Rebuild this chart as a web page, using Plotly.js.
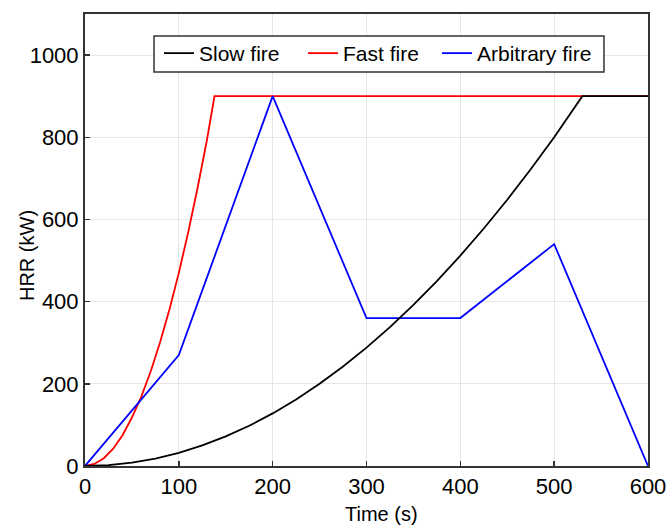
<!DOCTYPE html>
<html>
<head>
<meta charset="utf-8">
<script src="https://cdn.plot.ly/plotly-3.0.1.min.js"></script>
<style>html,body{margin:0;padding:0;background:#fff;}#chart{width:667px;height:527px;}</style>
</head>
<body>
<div id="chart"></div>
<script>
const slowTime = [0,25,50,75,100,125,150,175,200,225,250,275,300,325,350,375,400,425,450,475,500,530,600];
const slowHRR  = [0,2,8,18,32,50,72,98,128,162,200,242,288,338,392,450,512,578,648,722,800,900,900];
const fastTime = [0,10,20,30,40,50,60,70,80,90,100,110,120,130,138,600];
const fastHRR  = [0,5,19,42,75,118,169,230,301,381,470,569,677,794,900,900];
const arbTime  = [0,100,200,300,400,500,600];
const arbHRR   = [0,270,900,360,360,540,0];
const seriesNames = ['Slow fire','Fast fire','Arbitrary fire'];
const xTicks = [0,100,200,300,400,500,600];
const yTicks = [0,200,400,600,800,1000];
const xTitle = 'Time (s)';
const yTitle = 'HRR (kW)';

const traces = [
  {x: fastTime, y: fastHRR, name: seriesNames[1], mode:'lines', line:{color:'#ff0000', width:1.8}, legend:'legend2'},
  {x: arbTime, y: arbHRR, name: seriesNames[2], mode:'lines', line:{color:'#0000ff', width:1.8}, legend:'legend3'},
  {x: slowTime, y: slowHRR, name: seriesNames[0], mode:'lines', line:{color:'#000000', width:1.8}, legend:'legend'}
];
const FONT = 'Liberation Sans, Arial, sans-serif';
const axisCommon = {
  showline:true, linecolor:'#333', linewidth:2, mirror:true,
  ticks:'inside', ticklen:5, tickcolor:'#333', tickwidth:1.5,
  showgrid:true, gridcolor:'#e6e6e6', gridwidth:1, zeroline:false,
  tickfont:{family:FONT, size:22, color:'#000'}
};
const legBase = {orientation:'h', yanchor:'top', xanchor:'left', y:0.958,
  bgcolor:'rgba(0,0,0,0)', borderwidth:0, font:{size:21, family:FONT, color:'#000'}};
const layout = {
  width:667, height:527,
  margin:{l:85, r:19, t:14, b:61},
  paper_bgcolor:'#fff', plot_bgcolor:'#fff',
  font:{family:FONT, color:'#000'},
  xaxis: Object.assign({}, axisCommon, {range:[0,600], tickvals:xTicks, ticktext:xTicks.map(String)}),
  yaxis: Object.assign({}, axisCommon, {range:[0,1100], tickvals:yTicks, ticktext:yTicks.map(String)}),
  shapes:[
    {type:'rect', xref:'paper', yref:'paper', x0:0.1226, x1:0.9218, y0:0.8717, y1:0.9513,
     fillcolor:'#fff', line:{color:'#333', width:1.5}, layer:'above'}
  ],
  annotations:[
    {text:xTitle, xref:'paper', yref:'paper', x:0.5275, y:-0.1062, xanchor:'center', yanchor:'middle',
     showarrow:false, font:{size:20, family:FONT, color:'#000'}},
    {text:yTitle, xref:'paper', yref:'paper', x:-0.103, y:0.4646, xanchor:'center', yanchor:'middle',
     textangle:-90, showarrow:false, font:{size:20, family:FONT, color:'#000'}}
  ],
  legend: Object.assign({}, legBase, {x:(159-85)/563}),
  legend2: Object.assign({}, legBase, {x:(303-85)/563}),
  legend3: Object.assign({}, legBase, {x:(437-85)/563}),
  showlegend:true
};
Plotly.newPlot('chart', traces, layout, {displayModeBar:false, staticPlot:true});
</script>
</body>
</html>
